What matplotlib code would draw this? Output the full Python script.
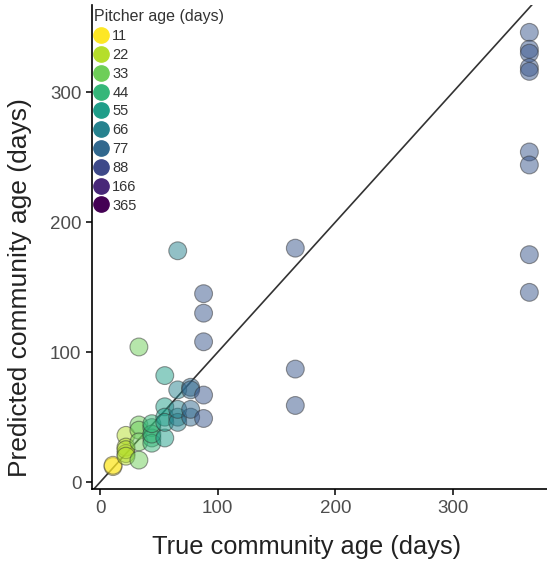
import numpy as np
import matplotlib.pyplot as plt
from matplotlib.lines import Line2D

# pitcher ages shown in the legend (days)
ages = [11, 22, 33, 44, 55, 66, 77, 88, 166, 365]
age_colors = ['#fde725', '#b5de2b', '#6ece58', '#35b779', '#1f9e89',
              '#26828e', '#31688e', '#3e4989', '#482878', '#440154']

# true vs predicted community age, one entry per sample
true_age = [11, 11,
            22, 22, 22, 22, 22,
            33, 33, 33, 33, 33,
            44, 44, 44, 44, 44,
            55, 55, 55, 55, 55,
            66, 66, 66, 66, 66,
            77, 77, 77, 77,
            88, 88, 88, 88, 88,
            166, 166, 166,
            365, 365, 365, 365, 365, 365, 365, 365, 365]
pred_age = [12, 13,
            36, 27, 22, 25, 20,
            104, 44, 40, 17, 31,
            42, 34, 30, 37, 45,
            82, 58, 50, 34, 46,
            178, 71, 50, 46, 56,
            73, 71, 50, 56,
            145, 130, 108, 67, 49,
            180, 87, 59,
            346, 333, 330, 319, 316, 254, 244, 175, 146]

# older pitchers are drawn in one shared blue
old_color = '#39568c'
point_colors = [age_colors[ages.index(a)] if a < 88 else old_color
                for a in true_age]

plt.rcParams['font.family'] = ['Liberation Sans', 'DejaVu Sans']

fig = plt.figure(figsize=(5.47, 5.62), dpi=100)
ax = fig.add_axes([0.169, 0.130, 0.831, 0.861])

ax.plot([-10, 400], [-10, 400], color='#333333', lw=1.2, zorder=1)
ax.scatter(true_age, pred_age, s=165, c=point_colors, alpha=0.5,
           edgecolors='#333333', linewidths=0.8, zorder=2)

ax.set_xlim(-6.5, 380)
ax.set_ylim(-5.2, 367)
ax.set_xticks([0, 100, 200, 300])
ax.set_yticks([0, 100, 200, 300])
for s in ['top', 'right']:
    ax.spines[s].set_visible(False)
for s in ['left', 'bottom']:
    ax.spines[s].set_linewidth(1.2)
ax.tick_params(length=4, width=1.1, labelsize=13.5, colors='black',
               labelcolor='#4d4d4d', pad=4)

ax.set_xlabel('True community age (days)', fontsize=18.3, color='#222222')
ax.xaxis.set_label_coords(0.472, -0.095)
ax.set_ylabel('Predicted community age (days)', fontsize=19,
              color='#222222')
ax.yaxis.set_label_coords(-0.132, 0.417)

handles = [Line2D([], [], marker='o', ls='', markersize=11,
                  markerfacecolor=c, markeredgecolor=c) for c in age_colors]
leg = ax.legend(handles, [str(a) for a in ages], title='Pitcher age (days)',
                loc='upper left', bbox_to_anchor=(-0.003, 0.997),
                frameon=False, fontsize=10.5, title_fontsize=11.5,
                labelspacing=0.33, handlelength=0.9, handletextpad=0.35,
                borderpad=0.2, borderaxespad=0.0)
leg._legend_box.align = 'left'
for t in leg.get_texts():
    t.set_color('#333333')
leg.get_title().set_color('#333333')

fig.savefig('out.png', dpi=100)
